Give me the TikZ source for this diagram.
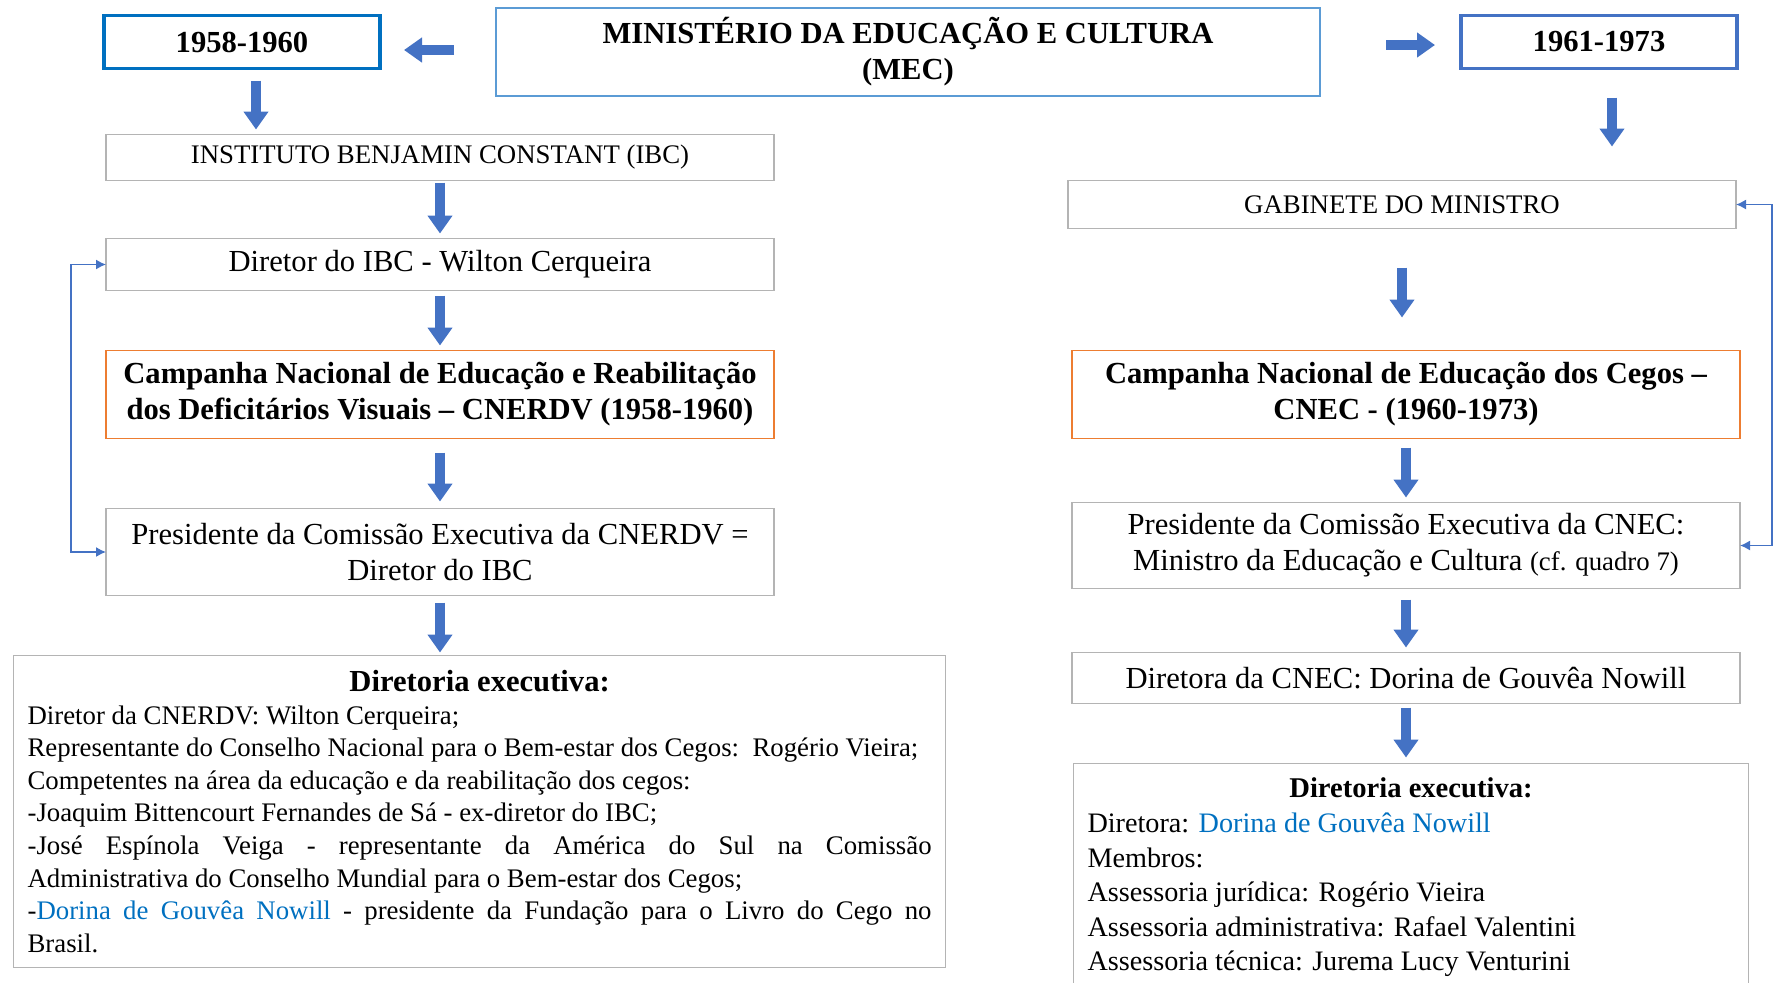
\documentclass[tikz,border=0pt]{standalone}
\usepackage{fontspec}
\setmainfont{Liberation Serif}
\usepackage{tikz}
\usetikzlibrary{positioning}
\usetikzlibrary{arrows.meta}
\setlength{\parindent}{0pt}
\definecolor{arrowblue}{HTML}{4472C4}
\definecolor{yearblue}{HTML}{0070C0}
\definecolor{mecblue}{HTML}{5B9BD5}
\definecolor{boxgray}{HTML}{B4B4B4}
\definecolor{boxorange}{HTML}{ED7D31}
\definecolor{namecolor}{HTML}{0070C0}
\newcommand{\bigtext}{\fontsize{15.3}{18}\selectfont}
\newcommand{\captext}{\fontsize{13.4}{16}\selectfont}
\tikzstyle{mecbox} = [rectangle, draw=mecblue, line width=0.8pt, minimum width=412pt, minimum height=44pt, inner sep=0pt, outer sep=0pt, align=center, font=\bigtext\bfseries]
\tikzstyle{yearbox} = [rectangle, draw=yearblue, line width=1.8pt, minimum width=138pt, minimum height=26.5pt, inner sep=0pt, outer sep=0pt, font=\bigtext\bfseries]
\tikzstyle{plainbox} = [rectangle, draw=boxgray, line width=0.8pt, minimum width=334pt, inner sep=0pt, outer sep=0pt, align=center, font=\bigtext]
\tikzstyle{campbox} = [rectangle, draw=boxorange, line width=0.8pt, minimum width=334pt, minimum height=44pt, inner sep=0pt, outer sep=0pt, align=center, font=\bigtext\bfseries]
\tikzstyle{listbox} = [rectangle, draw=boxgray, line width=0.8pt, inner xsep=7pt, inner ysep=5pt, outer sep=0pt, align=justify]
\tikzstyle{bigarrow} = [arrowblue, line width=5pt, -{Triangle[width=12pt,length=9pt]}]
\tikzstyle{link} = [arrowblue, line width=0.7pt, {Latex[length=5pt,width=5pt]}-{Latex[length=5pt,width=5pt]}]

\begin{document}
\begin{tikzpicture}
        \useasboundingbox (0,0) rectangle (887pt,-491pt);
        \node (mec) [mecbox] at (454pt,-26pt) {MINISTÉRIO DA EDUCAÇÃO E CULTURA\\(MEC)};
        \node (b1958) [yearbox, left=58pt of mec, yshift=5pt] {1958-1960};
        \node (b1961) [yearbox, right=70.5pt of mec, yshift=5pt, draw=arrowblue] {1961-1973};

        % 1958-1960
        \node (ibc) [plainbox, below=33pt of b1958, xshift=99pt, minimum height=23pt, font=\captext] {INSTITUTO BENJAMIN CONSTANT (IBC)};
        \node (dirIBC) [plainbox, below=29pt of ibc, minimum height=26pt] {Diretor do IBC - Wilton Cerqueira};
        \node (cnerdv) [campbox, below=30pt of dirIBC] {Campanha Nacional de Educação e Reabilitação\\dos Deficitários Visuais – CNERDV (1958-1960)};
        \node (presIBC) [plainbox, below=35pt of cnerdv, minimum height=43.5pt] {Presidente da Comissão Executiva da CNERDV =\\Diretor do IBC};
        \node (direx) [listbox, below=30pt of presIBC, xshift=19.8pt, minimum width=466pt, minimum height=156pt, text width=452pt, font=\fontsize{13.4}{16.3}\selectfont] {{\centering\fontsize{15.3}{16.3}\selectfont\bfseries Diretoria executiva:\par}
Diretor da CNERDV: Wilton Cerqueira;\\
Representante do Conselho Nacional para o Bem-estar dos Cegos:~~Rogério Vieira;\\
Competentes na área da educação e da reabilitação dos cegos:\\
-Joaquim Bittencourt Fernandes de Sá - ex-diretor do IBC;\\
-José Espínola Veiga - representante da América do Sul na Comissão\linebreak Administrativa do Conselho Mundial para o Bem-estar dos Cegos;\\
-{\color{namecolor}Dorina de Gouvêa Nowill} - presidente da Fundação para o Livro do Cego no\linebreak Brasil.};

        % 1961-1973
        \node (gab) [plainbox, below=56pt of b1961, xshift=-98.5pt, minimum height=24pt, font=\captext] {GABINETE DO MINISTRO};
        \node (cnec) [campbox, below=61pt of gab, xshift=2pt] {Campanha Nacional de Educação dos Cegos –\\CNEC - (1960-1973)};
        \node (presMEC) [plainbox, below=32pt of cnec, minimum height=43pt] {Presidente da Comissão Executiva da CNEC:\\Ministro da Educação e Cultura {\captext(cf. quadro 7)}};
        \node (dirCNEC) [plainbox, below=32pt of presMEC, minimum height=25.5pt] {Diretora da CNEC: Dorina de Gouvêa Nowill};
        \node (direxc) [listbox, below=30pt of dirCNEC, xshift=2.5pt, minimum width=337.5pt, minimum height=114pt, text width=323.5pt, font=\fontsize{14.1}{17.3}\selectfont] {{\centering\fontsize{14.3}{17.3}\selectfont\bfseries Diretoria executiva:\par}
Diretora: {\color{namecolor}Dorina de Gouvêa Nowill}\\
Membros:\\
Assessoria jurídica: Rogério Vieira\\
Assessoria administrativa: Rafael Valentini\\
Assessoria técnica: Jurema Lucy Venturini};

        \draw [bigarrow, shorten <=21pt, shorten >=12pt] ([yshift=1pt]mec.west) -- ([yshift=1pt]mec.west -| b1958.east);
        \draw [bigarrow, shorten <=33pt, shorten >=13pt] ([yshift=3.5pt]mec.east) -- ([yshift=3.5pt]mec.east -| b1961.west);
        \draw [bigarrow, shorten <=6pt, shorten >=2.5pt] ([xshift=7pt]b1958.south) -- ([xshift=7pt]b1958.south |- ibc.north);
        \draw [bigarrow, shorten <=1pt, shorten >=2.5pt] (ibc.south) -- (dirIBC.north);
        \draw [bigarrow, shorten <=2.5pt, shorten >=2.5pt] (dirIBC.south) -- (cnerdv.north);
        \draw [bigarrow, shorten <=7pt, shorten >=3.5pt] (cnerdv.south) -- (presIBC.north);
        \draw [bigarrow, shorten <=3.5pt, shorten >=1.5pt] (presIBC.south) -- (presIBC.south |- direx.north);
        \draw [bigarrow, shorten <=14.5pt, shorten >=17pt] ([xshift=6.5pt]b1961.south) -- ([xshift=6.5pt]b1961.south |- gab.north);
        \draw [bigarrow, shorten <=19.5pt, shorten >=16.5pt] (gab.south) -- (gab.south |- cnec.north);
        \draw [bigarrow, shorten <=4.5pt, shorten >=2.5pt] (cnec.south) -- (presMEC.north);
        \draw [bigarrow, shorten <=5.5pt, shorten >=2.5pt] (presMEC.south) -- (dirCNEC.north);
        \draw [bigarrow, shorten <=2pt, shorten >=3pt] (dirCNEC.south) -- (dirCNEC.south |- direxc.north);

        \draw [link] (dirIBC.west) -- ++(-17.5pt,0) |- (presIBC.west);
        \draw [link] (gab.east) -- ++(18pt,0) |- (presMEC.east);
\end{tikzpicture}
\end{document}
